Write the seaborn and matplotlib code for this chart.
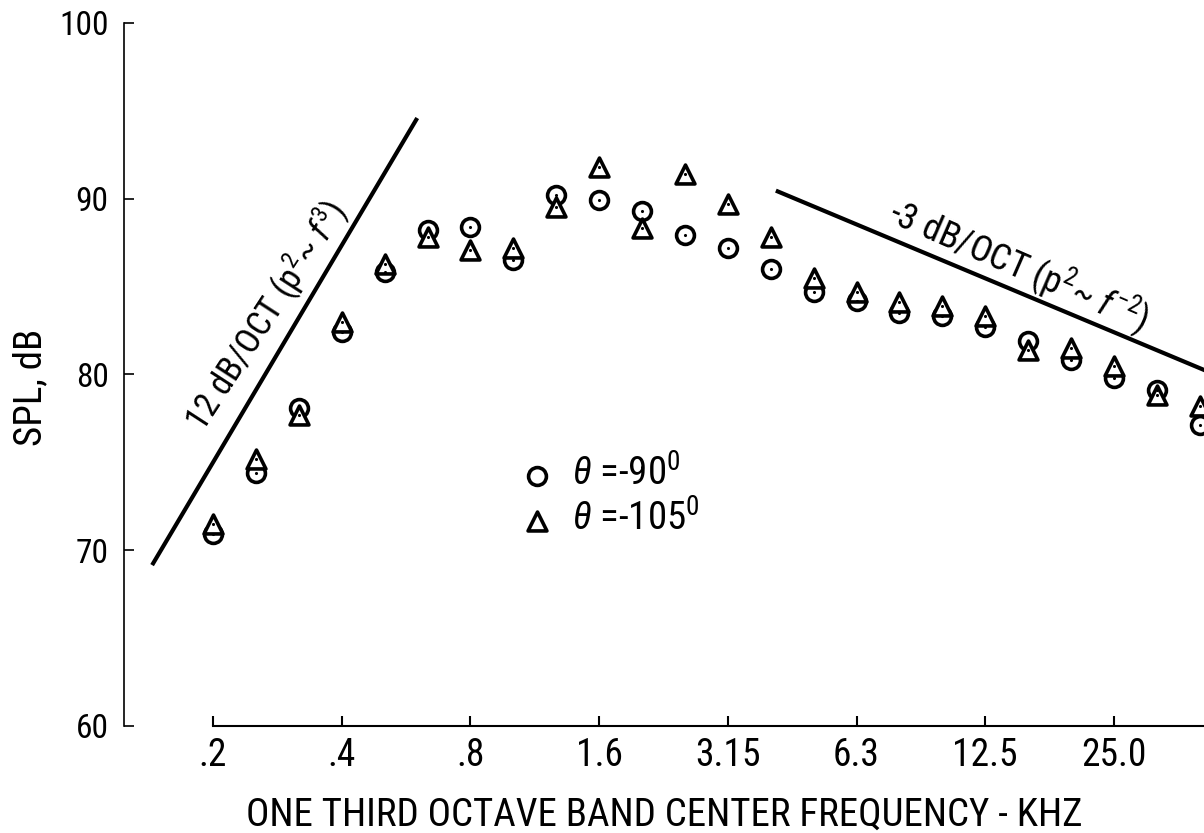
import numpy as np
import pandas as pd
import matplotlib
matplotlib.use("Agg")
import matplotlib.pyplot as plt
from matplotlib import font_manager as fm
import seaborn as sns

# ---- data ----
band_labels = [".2", ".25", ".315", ".4", ".5", ".63", ".8", "1.0", "1.25", "1.6", "2.0", "2.5",
               "3.15", "4.0", "5.0", "6.3", "8.0", "10", "12.5", "16", "20", "25.0", "31.5", "40"]
band_index = list(range(len(band_labels)))
spl_m90 = [70.9, 74.4, 78.1, 82.4, 85.8, 88.2, 88.4, 86.5, 90.2, 89.9, 89.3, 87.9,
           87.2, 86.0, 84.7, 84.2, 83.5, 83.3, 82.7, 81.9, 80.8, 79.8, 79.1, 77.1]
spl_m105 = [71.5, 75.2, 77.7, 83.0, 86.3, 87.8, 87.1, 87.2, 89.5, 91.8, 88.3, 91.4,
            89.7, 87.8, 85.5, 84.7, 84.1, 83.9, 83.3, 81.4, 81.5, 80.5, 78.8, 78.2]
tick_bands = [0, 3, 6, 9, 12, 15, 18, 21]
tick_labels = [".2", ".4", ".8", "1.6", "3.15", "6.3", "12.5", "25.0"]
y_ticks = [60, 70, 80, 90, 100]

# reference slope lines (band index, dB)
line12_x = [-1.42, 4.76]
line12_y = [69.15, 94.58]
line3_x = [13.12, 23.6]
line3_y = [90.45, 79.74]

series_names = [r"$\theta$ =-90$^{\mathrm{0}}$", r"$\theta$ =-105$^{\mathrm{0}}$"]

df = pd.DataFrame({
    "band": band_index * 2,
    "spl": spl_m90 + spl_m105,
    "series": [series_names[0]] * len(band_index) + [series_names[1]] * len(band_index),
})

# ---- pick a narrow sans face if one is installed ----
entries = fm.fontManager.ttflist
names = {f.name for f in entries}
fam, stretch = None, "normal"
for p in ["Liberation Sans Narrow", "DejaVu Sans Condensed", "Noto Sans Condensed",
          "Noto Sans SemiCondensed", "Roboto Condensed", "Open Sans Condensed", "Arial Narrow"]:
    if p in names:
        fam = p
        break
if fam is None:
    for f in entries:
        if str(f.stretch) in ("condensed", "semi-condensed", "extra-condensed") and \
                f.name in ("DejaVu Sans", "Noto Sans", "Roboto", "Open Sans"):
            fam, stretch = f.name, str(f.stretch)
            break
narrow = fam is not None
if fam is None:
    fam = "Liberation Sans"
k = 1.0 if narrow else 0.86   # shrink if only a regular-width face exists

sns.set_style("ticks")
plt.rcParams["font.family"] = [fam, "DejaVu Sans"]
plt.rcParams["font.stretch"] = stretch
plt.rcParams["mathtext.fontset"] = "custom"
plt.rcParams["mathtext.rm"] = fam
plt.rcParams["mathtext.it"] = fam + ":italic"
for key in ["text.color", "axes.labelcolor", "xtick.color", "ytick.color", "axes.edgecolor"]:
    plt.rcParams[key] = "black"

fig = plt.figure(figsize=(12.04, 8.33), dpi=100)
ax = fig.add_axes([0.103, 0.1285, 0.897, 0.8442])

d1 = df[df["series"] == series_names[0]]
d2 = df[df["series"] == series_names[1]]
sns.scatterplot(data=d1, x="band", y="spl", marker="o", s=165, facecolor="white",
                edgecolor="black", linewidth=2.6, label=series_names[0], ax=ax, zorder=3)
sns.scatterplot(data=d2, x="band", y="spl", marker="^", s=185, facecolor="white",
                edgecolor="black", linewidth=2.6, label=series_names[1], ax=ax, zorder=4)
# small centre dots of the hand-plotted symbols
sns.scatterplot(data=df, x="band", y="spl", marker="o", s=5, color="black",
                linewidth=0, legend=False, ax=ax, zorder=5)

ax.plot(line12_x, line12_y, color="black", lw=3, solid_capstyle="butt")
ax.plot(line3_x, line3_y, color="black", lw=3, solid_capstyle="butt")

ax.text(1.24, 83.3, r"12 dB/OCT (p$^{\mathrm{2}}$~ $f^{\mathrm{3}}$)", rotation=57,
        ha="center", va="center", rotation_mode="anchor", fontsize=25 * k)
ax.text(18.8, 86.2, r"-3 dB/OCT (p$^{\mathrm{2}}$~ $f^{\mathrm{-2}}$)", rotation=-23.5,
        ha="center", va="center", rotation_mode="anchor", fontsize=26 * k)

ax.set_xlim(-2.075, 23.1)
ax.set_ylim(60, 100)
ax.set_xticks(tick_bands)
ax.set_xticklabels(tick_labels)
ax.set_yticks(y_ticks)
ax.tick_params(axis="x", direction="in", length=7, width=1.5, pad=8, labelsize=27 * k)
ax.tick_params(axis="y", direction="in", length=7, width=1.2, pad=11, labelsize=24 * k)

for s in ["top", "right"]:
    ax.spines[s].set_visible(False)
ax.spines["left"].set_bounds(60, 100)
ax.spines["left"].set_linewidth(1.2)
ax.spines["bottom"].set_bounds(0, 23.1)
ax.spines["bottom"].set_linewidth(1.5)

ax.set_xlabel("ONE THIRD OCTAVE BAND CENTER FREQUENCY - KHZ", fontsize=28 * k)
ax.set_ylabel("SPL, dB", fontsize=28 * k)
ax.xaxis.set_label_coords(0.5, -0.10)
ax.yaxis.set_label_coords(-0.069, 0.482)

leg = ax.legend(loc="center left", bbox_to_anchor=(0.366, 0.326), frameon=False,
                fontsize=28 * k, handlelength=0.9, handletextpad=0.45, labelspacing=0.15,
                borderpad=0, borderaxespad=0)

fig.savefig("out.png", dpi=100)
